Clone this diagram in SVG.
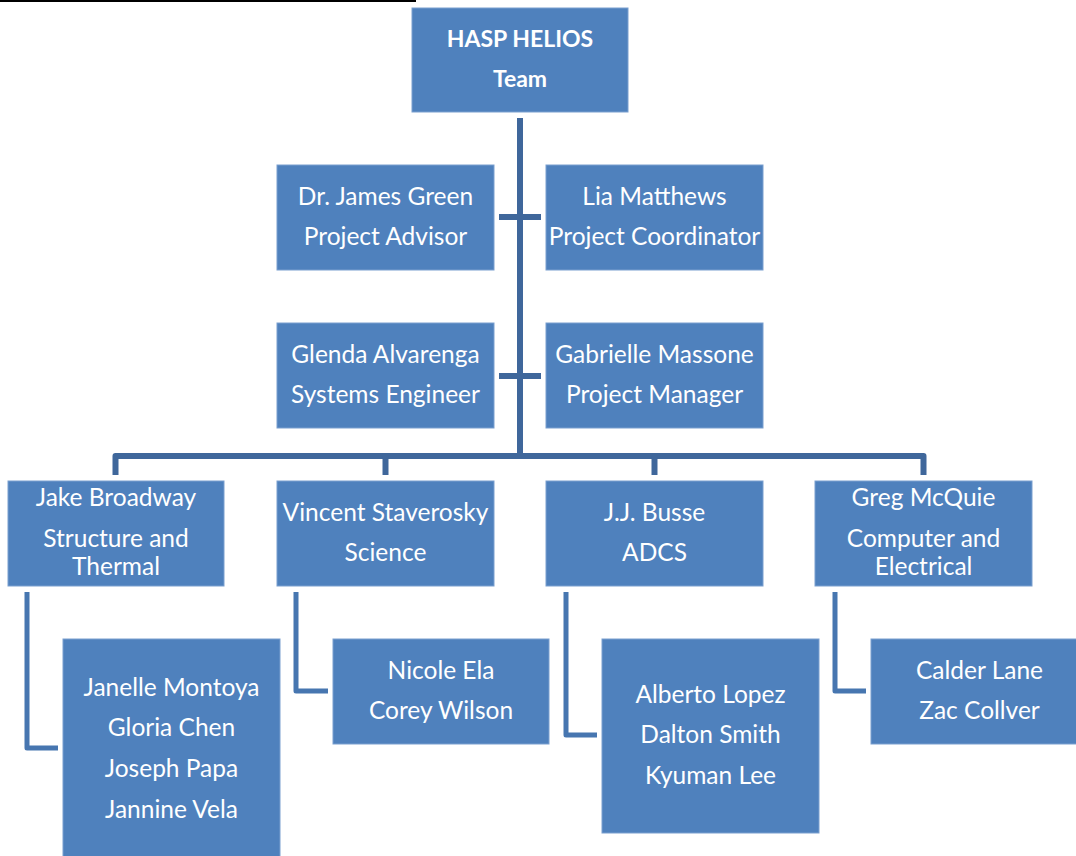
<svg xmlns="http://www.w3.org/2000/svg" width="1076" height="856" viewBox="0 0 1076 856">
<style>
.box{fill:#4F81BD;stroke:#7A9FCF;stroke-width:1}
.t{fill:#fff;font-family:Lato,"Open Sans","Liberation Sans",sans-serif;font-size:24.5px;text-anchor:middle}
.b{font-weight:bold;font-size:23px}
.main{fill:none;stroke:#3F679B;stroke-width:6;stroke-linejoin:round}
.sub{fill:none;stroke:#4776B0;stroke-width:5;stroke-linejoin:round}
</style>
<rect width="1076" height="856" fill="#fff"/>
<line x1="0" y1="1" x2="416" y2="1" stroke="#000" stroke-width="2"/>
<g id="connectors">
<line class="main" x1="520" y1="118" x2="520" y2="456"/>
<line class="main" x1="499" y1="217" x2="541" y2="217" stroke-width="5"/>
<line class="main" x1="499" y1="376" x2="541" y2="376" stroke-width="5"/>
<path class="main" d="M115.5,475 V456 H923.5 V475"/>
<line class="main" x1="385.5" y1="456" x2="385.5" y2="475"/>
<line class="main" x1="654.5" y1="456" x2="654.5" y2="475"/>
<path class="sub" d="M27,592 V748 H58"/>
<path class="sub" d="M296,592 V691 H328"/>
<path class="sub" d="M566,592 V735 H597"/>
<path class="sub" d="M835,592 V691 H866"/>
</g>
<g id="team"><rect class="box" x="412" y="8" width="216" height="104"/><text class="t b" x="520" y="47">HASP HELIOS</text><text class="t b" x="520" y="87">Team</text></g>
<g id="green"><rect class="box" x="277" y="165" width="217" height="105"/><text class="t" x="385.5" y="205">Dr. James Green</text><text class="t" x="385.5" y="245">Project Advisor</text></g>
<g id="matthews"><rect class="box" x="546" y="165" width="217" height="105"/><text class="t" x="654.5" y="205">Lia Matthews</text><text class="t" x="654.5" y="245">Project Coordinator</text></g>
<g id="alvarenga"><rect class="box" x="277" y="323" width="217" height="105"/><text class="t" x="385.5" y="363">Glenda Alvarenga</text><text class="t" x="385.5" y="403">Systems Engineer</text></g>
<g id="massone"><rect class="box" x="546" y="323" width="217" height="105"/><text class="t" x="654.5" y="363">Gabrielle Massone</text><text class="t" x="654.5" y="403">Project Manager</text></g>
<g id="broadway"><rect class="box" x="8" y="481" width="216" height="105"/><text class="t" x="116" y="506">Jake Broadway</text><text class="t" x="116" y="547">Structure and</text><text class="t" x="116" y="575">Thermal</text></g>
<g id="staverosky"><rect class="box" x="277" y="481" width="217" height="105"/><text class="t" x="385.5" y="521">Vincent Staverosky</text><text class="t" x="385.5" y="561">Science</text></g>
<g id="busse"><rect class="box" x="546" y="481" width="217" height="105"/><text class="t" x="654.5" y="521">J.J. Busse</text><text class="t" x="654.5" y="561">ADCS</text></g>
<g id="mcquie"><rect class="box" x="815" y="481" width="217" height="105"/><text class="t" x="923.5" y="506">Greg McQuie</text><text class="t" x="923.5" y="547">Computer and</text><text class="t" x="923.5" y="575">Electrical</text></g>
<g id="structure-team"><rect class="box" x="63" y="639" width="217" height="230"/><text class="t" x="171.5" y="696">Janelle Montoya</text><text class="t" x="171.5" y="736">Gloria Chen</text><text class="t" x="171.5" y="777">Joseph Papa</text><text class="t" x="171.5" y="818">Jannine Vela</text></g>
<g id="science-team"><rect class="box" x="333" y="639" width="216" height="105"/><text class="t" x="441" y="679">Nicole Ela</text><text class="t" x="441" y="719">Corey Wilson</text></g>
<g id="adcs-team"><rect class="box" x="602" y="639" width="217" height="194"/><text class="t" x="710.5" y="703">Alberto Lopez</text><text class="t" x="710.5" y="743">Dalton Smith</text><text class="t" x="710.5" y="784">Kyuman Lee</text></g>
<g id="electrical-team"><rect class="box" x="871" y="639" width="217" height="105"/><text class="t" x="979.5" y="679">Calder Lane</text><text class="t" x="979.5" y="719">Zac Collver</text></g>
</svg>
